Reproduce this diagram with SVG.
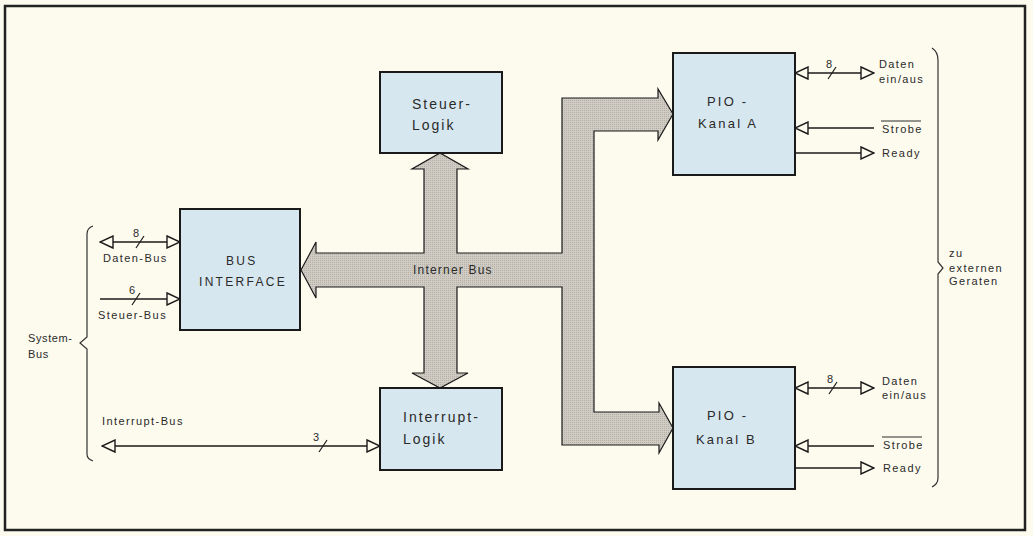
<svg xmlns="http://www.w3.org/2000/svg" width="1033" height="536" viewBox="0 0 1033 536">
<defs>
<style>
text{font-family:"Liberation Sans",Arial,sans-serif;fill:#2a2a2a;}
.box{fill:#d7e7ef;stroke:#1a1a1a;stroke-width:2;}
.big{font-size:14px;letter-spacing:2px;}
.mid{font-size:13px;letter-spacing:2.2px;}
.cap{font-size:12px;letter-spacing:2.3px;}
.sm{font-size:11px;letter-spacing:1.4px;}
.num{font-size:11px;}
.sig{stroke:#1a1a1a;stroke-width:1.4;fill:none;}
.slash{stroke:#1a1a1a;stroke-width:1.2;fill:none;}
.brace{stroke:#333;stroke-width:1.2;fill:none;}
</style>
<pattern id="dots" width="2" height="2" patternUnits="userSpaceOnUse">
<rect width="2" height="2" fill="#d0ccc4"/>
<rect width="1" height="1" fill="#b3afa7"/>
</pattern>
<marker id="tri" viewBox="-1 -1 15 14" refX="13" refY="6" markerWidth="15" markerHeight="14" markerUnits="userSpaceOnUse" orient="auto-start-reverse">
<path d="M0,0 L13,6 L0,12 Z" fill="#fdfbee" stroke="#1a1a1a" stroke-width="1.4"/>
</marker>
</defs>
<rect x="0" y="0" width="1033" height="536" fill="#fdfbee"/>
<rect x="5" y="6" width="1020" height="524" fill="none" stroke="#222" stroke-width="2.5"/>

<g id="connectors">
<path id="internal-bus" d="M301,270 L316,242 L316,253 L424,253 L424,169 L412,169 L440,153 L468,169 L457,169 L457,253 L562,253 L562,98 L658,98 L658,89 L673,114 L658,140 L658,131 L594,131 L594,412 L659,412 L659,403 L673,428 L659,453 L659,445 L562,445 L562,287 L457,287 L457,373 L468,373 L440,388 L412,373 L424,373 L424,287 L316,287 L316,298 Z" fill="url(#dots)" stroke="#1a1a1a" stroke-width="1.2" stroke-linejoin="miter"/>
<line class="sig" x1="100" y1="242" x2="180" y2="242" marker-start="url(#tri)" marker-end="url(#tri)"/>
<line class="sig" x1="100" y1="299" x2="180" y2="299" marker-end="url(#tri)"/>
<line class="sig" x1="102" y1="446" x2="380" y2="446" marker-start="url(#tri)" marker-end="url(#tri)"/>
<line class="sig" x1="795" y1="73" x2="874" y2="73" marker-start="url(#tri)" marker-end="url(#tri)"/>
<line class="sig" x1="874" y1="128" x2="795" y2="128" marker-end="url(#tri)"/>
<line class="sig" x1="795" y1="153" x2="874" y2="153" marker-end="url(#tri)"/>
<line class="sig" x1="795" y1="388" x2="874" y2="388" marker-start="url(#tri)" marker-end="url(#tri)"/>
<line class="sig" x1="874" y1="446" x2="795" y2="446" marker-end="url(#tri)"/>
<line class="sig" x1="795" y1="468" x2="874" y2="468" marker-end="url(#tri)"/>
<path class="slash" d="M136,248 L144,236"/>
<path class="slash" d="M132,305 L140,293"/>
<path class="slash" d="M319,452 L327,440"/>
<path class="slash" d="M828,79 L836,67"/>
<path class="slash" d="M829,394 L837,382"/>
<text class="num" x="133" y="237">8</text>
<text class="num" x="129" y="294">6</text>
<text class="num" x="313" y="441">3</text>
<text class="num" x="826" y="68">8</text>
<text class="num" x="827" y="383">8</text>
<text x="413" y="274" style="font-size:12px;letter-spacing:1.2px">Interner Bus</text>
</g>

<g id="steuer-logik">
<rect class="box" x="380" y="72" width="122" height="81"/>
<text class="big" x="412" y="109">Steuer-</text>
<text class="big" x="412" y="130">Logik</text>
</g>

<g id="bus-interface">
<rect class="box" x="180" y="209" width="120" height="121"/>
<text class="cap" x="226" y="265">BUS</text>
<text class="cap" x="199" y="286">INTERFACE</text>
</g>

<g id="interrupt-logik">
<rect class="box" x="380" y="388" width="122" height="82"/>
<text class="big" x="403" y="422">Interrupt-</text>
<text class="big" x="403" y="444">Logik</text>
</g>

<g id="pio-a">
<rect class="box" x="673" y="53" width="122" height="122"/>
<text class="mid" x="707" y="106">PIO -</text>
<text class="mid" x="698" y="128">Kanal A</text>
</g>

<g id="pio-b">
<rect class="box" x="673" y="367" width="122" height="122"/>
<text class="mid" x="707" y="420">PIO -</text>
<text class="mid" x="696" y="444">Kanal B</text>
</g>

<g id="system-bus-labels">
<text class="sm" x="103" y="262">Daten-Bus</text>
<text class="sm" x="98" y="319">Steuer-Bus</text>
<text class="sm" x="102" y="425">Interrupt-Bus</text>
<path class="brace" d="M93,226 Q87,228 87,234 L87,337 L80,343 L87,349 L87,454 Q87,459 93,461"/>
<text class="sm" x="28" y="342" style="letter-spacing:0.6px">System-</text>
<text class="sm" x="28" y="358" style="letter-spacing:0.6px">Bus</text>
</g>

<g id="external-labels">
<text class="sm" x="879" y="68">Daten</text>
<text class="sm" x="879" y="83">ein/aus</text>
<text class="sm" x="882" y="133">Strobe</text>
<line x1="881" y1="121" x2="921" y2="121" stroke="#2a2a2a" stroke-width="1"/>
<text class="sm" x="882" y="157">Ready</text>
<text class="sm" x="882" y="385">Daten</text>
<text class="sm" x="882" y="399">ein/aus</text>
<text class="sm" x="883" y="449">Strobe</text>
<line x1="882" y1="437" x2="922" y2="437" stroke="#2a2a2a" stroke-width="1"/>
<text class="sm" x="883" y="472">Ready</text>
<path class="brace" d="M932,48 Q938,52 938,60 L938,262 L943,268 L938,274 L938,478 Q938,484 932,487"/>
<text class="sm" x="949" y="257">zu</text>
<text class="sm" x="949" y="272">externen</text>
<text class="sm" x="949" y="285">Geraten</text>
</g>
</svg>
